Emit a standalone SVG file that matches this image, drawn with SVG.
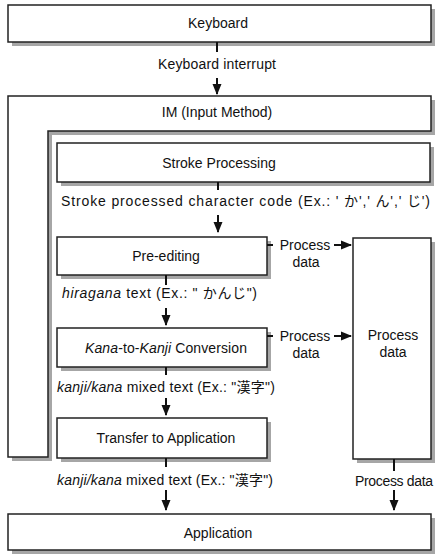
<svg xmlns="http://www.w3.org/2000/svg" width="437" height="559" viewBox="0 0 437 559">
<style>
.box{fill:#fff;stroke:#222;stroke-width:1.5}
.sh{fill:#a6a6a6}
text{font-family:"Liberation Sans","Noto Sans CJK JP",sans-serif;font-size:14px;fill:#111}
.c{text-anchor:middle}
.i{font-style:italic}
.ln{stroke:#111;stroke-width:2;fill:none}
</style>
<defs>
<marker id="ah" markerUnits="userSpaceOnUse" markerWidth="11" markerHeight="10" refX="10" refY="4.5" orient="auto" viewBox="0 0 11 9" overflow="visible">
<path d="M0,0 L11,4.5 L0,9 Z" fill="#111"/>
</marker>
</defs>
<rect width="437" height="559" fill="#fff"/>

<g id="keyboard">
<rect class="sh" x="12" y="9" width="423" height="37"/>
<rect class="box" x="8" y="5" width="423" height="37"/>
<text class="c" x="218" y="28">Keyboard</text>
</g>

<g id="im">
<path class="sh" d="M12,100 H435 V135 H52 V461 H12 Z"/>
<path class="box" d="M8,96 H431 V131 H48 V457 H8 Z"/>
<text class="c" x="217" y="117">IM (Input Method)</text>
</g>

<g id="stroke">
<rect class="sh" x="61" y="147" width="373" height="39"/>
<rect class="box" x="57" y="143" width="373" height="39"/>
<text class="c" x="219" y="168">Stroke Processing</text>
</g>

<g id="preedit">
<rect class="sh" x="61" y="241" width="210" height="38"/>
<rect class="box" x="57" y="237" width="210" height="38"/>
<text class="c" x="166" y="261">Pre-editing</text>
</g>

<g id="kanakanji">
<rect class="sh" x="61" y="332" width="210" height="39"/>
<rect class="box" x="57" y="328" width="210" height="39"/>
<text class="c" x="166" y="353" textLength="162" lengthAdjust="spacing"><tspan class="i">Kana</tspan>-to-<tspan class="i">Kanji</tspan> Conversion</text>
</g>

<g id="transfer">
<rect class="sh" x="61" y="422" width="210" height="40"/>
<rect class="box" x="57" y="418" width="210" height="40"/>
<text class="c" x="166" y="443">Transfer to Application</text>
</g>

<g id="processdata">
<rect class="sh" x="357" y="242" width="78" height="221"/>
<rect class="box" x="353" y="238" width="78" height="221"/>
<text class="c" x="393" y="340">Process</text>
<text class="c" x="393" y="357">data</text>
</g>

<g id="application">
<rect class="sh" x="12" y="518" width="423" height="36"/>
<rect class="box" x="8" y="514" width="423" height="36"/>
<text class="c" x="218" y="538">Application</text>
</g>

<g id="connectors">
<line class="ln" x1="217" y1="42" x2="217" y2="52"/>
<line class="ln" x1="217" y1="78" x2="217" y2="94" marker-end="url(#ah)"/>
<text class="c" x="217" y="69" textLength="118" lengthAdjust="spacing">Keyboard interrupt</text>

<line class="ln" x1="218" y1="182" x2="218" y2="190"/>
<line class="ln" x1="218" y1="215" x2="218" y2="232" marker-end="url(#ah)"/>
<text x="61" y="206" textLength="369" lengthAdjust="spacing">Stroke processed character code (Ex.: ' か',' ん',' じ')</text>

<line class="ln" x1="166" y1="275" x2="166" y2="285"/>
<line class="ln" x1="166" y1="308" x2="166" y2="325" marker-end="url(#ah)"/>
<text x="62" y="298" textLength="195" lengthAdjust="spacing"><tspan class="i">hiragana</tspan> text (Ex.: " かんじ")</text>

<line class="ln" x1="166" y1="367" x2="166" y2="375"/>
<line class="ln" x1="166" y1="398" x2="166" y2="415" marker-end="url(#ah)"/>
<text x="57" y="392" textLength="218" lengthAdjust="spacing"><tspan class="i">kanji/kana</tspan> mixed text (Ex.: "漢字")</text>

<line class="ln" x1="166" y1="458" x2="166" y2="467"/>
<line class="ln" x1="166" y1="490" x2="166" y2="510" marker-end="url(#ah)"/>
<text x="57" y="485" textLength="216" lengthAdjust="spacing"><tspan class="i">kanji/kana</tspan> mixed text (Ex.: "漢字")</text>

<line class="ln" x1="394" y1="459" x2="394" y2="471"/>
<line class="ln" x1="394" y1="490" x2="394" y2="510" marker-end="url(#ah)"/>
<text class="c" x="394" y="486" textLength="78" lengthAdjust="spacing">Process data</text>

<line class="ln" x1="267" y1="245" x2="273" y2="245"/>
<line class="ln" x1="334" y1="245" x2="351" y2="245" marker-end="url(#ah)"/>
<text class="c" x="305" y="250">Process</text>
<text class="c" x="306" y="267">data</text>

<line class="ln" x1="267" y1="336" x2="273" y2="336"/>
<line class="ln" x1="334" y1="336" x2="351" y2="336" marker-end="url(#ah)"/>
<text class="c" x="305" y="341">Process</text>
<text class="c" x="306" y="358">data</text>
</g>
</svg>
